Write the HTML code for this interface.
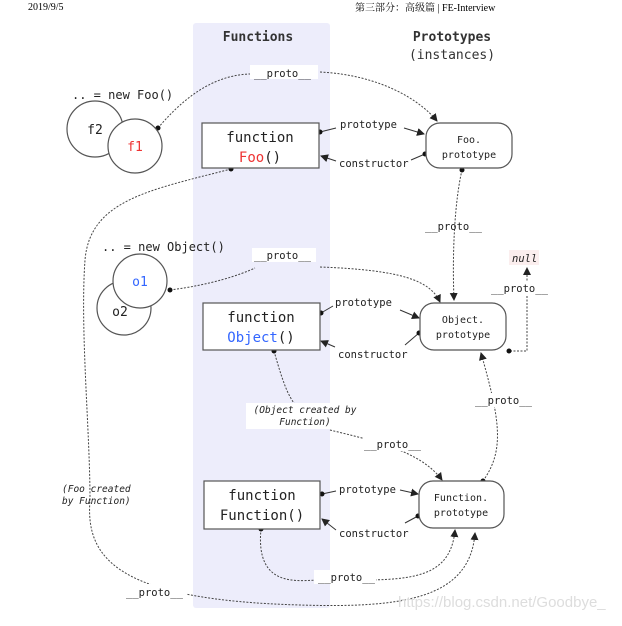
<!DOCTYPE html>
<html><head><meta charset="utf-8"><style>
body{margin:0;background:#fff;width:622px;height:621px;overflow:hidden}
svg text{font-family:"DejaVu Sans Mono","Liberation Mono",monospace}
</style></head><body>
<svg width="622" height="621" viewBox="0 0 622 621" xmlns="http://www.w3.org/2000/svg">
<defs>
<marker id="a" markerWidth="8" markerHeight="8" refX="7" refY="4" orient="auto" markerUnits="userSpaceOnUse"><path d="M0,0 L8,4 L0,8 z" fill="#222"/></marker>
</defs>
<text x="28" y="10" font-size="10" style="font-family:'Liberation Serif',serif">2019/9/5</text>
<text x="355" y="11" font-size="10" style="font-family:'Liberation Serif','Noto Serif CJK SC',serif">第三部分：高级篇 | FE-Interview</text>
<rect x="193" y="23" width="137" height="585" rx="3" fill="#ededfb"/>
<text x="258" y="41" font-size="13" font-weight="bold" text-anchor="middle" fill="#333">Functions</text>
<text x="452" y="41" font-size="13" font-weight="bold" text-anchor="middle" fill="#333">Prototypes</text>
<text x="452" y="59" font-size="13" text-anchor="middle" fill="#333">(instances)</text>

<g fill="none" stroke="#444" stroke-width="1" stroke-dasharray="2,1.5">
<path d="M158,128 C190,90 220,75 250,74" />
<path d="M320,72 C380,75 420,100 437,121" marker-end="url(#a)"/>
<path d="M231,169 C150,190 90,200 85,260 C80,330 90,430 90,500 C85,560 120,600 300,605 C400,608 470,600 475,533" marker-end="url(#a)"/>
<path d="M462,170 C455,200 452,250 454,300" marker-end="url(#a)"/>
<path d="M170,290 C210,285 240,275 255,268"/>
<path d="M320,267 C400,270 430,280 440,302" marker-end="url(#a)"/>
<path d="M510,351 L527,351 L527,268" marker-end="url(#a)"/>
<path d="M274,351 C285,390 290,400 300,410"/>
<path d="M330,430 C370,440 420,450 442,480" marker-end="url(#a)"/>
<path d="M483,481 C505,450 500,420 481,353" marker-end="url(#a)"/>
<path d="M261,529 C255,590 300,580 320,580 C400,580 450,585 455,530" marker-end="url(#a)"/>
</g>
<g fill="none" stroke="#333" stroke-width="1">
<path d="M320,132 L336,128"/><path d="M404,128 L424,134" marker-end="url(#a)"/>
<path d="M336,161 L321,156" marker-end="url(#a)"/><path d="M411,160 L425,154"/>
<path d="M321,313 L333,306"/><path d="M400,310 L419,318" marker-end="url(#a)"/>
<path d="M335,347 L321,341" marker-end="url(#a)"/><path d="M405,345 L419,333"/>
<path d="M322,494 L336,491"/><path d="M400,490 L418,494" marker-end="url(#a)"/>
<path d="M336,530 L322,519" marker-end="url(#a)"/><path d="M405,523 L418,516"/>
</g>
<g fill="#111">
<circle cx="158" cy="128" r="2.5"/><circle cx="320" cy="132" r="2.5"/><circle cx="425" cy="154" r="2.5"/><circle cx="231" cy="169" r="2.5"/><circle cx="462" cy="170" r="2.5"/>
<circle cx="170" cy="290" r="2.5"/><circle cx="321" cy="313" r="2.5"/><circle cx="419" cy="333" r="2.5"/><circle cx="509" cy="351" r="2.5"/><circle cx="274" cy="351" r="2.5"/>
<circle cx="322" cy="494" r="2.5"/><circle cx="418" cy="516" r="2.5"/><circle cx="483" cy="481" r="2.5"/><circle cx="261" cy="529" r="2.5"/>
</g>
<g fill="#fff" stroke="#555" stroke-width="1.2">
<circle cx="95" cy="129" r="28"/><circle cx="135" cy="146" r="27"/>
<circle cx="124" cy="308" r="27"/><circle cx="140" cy="281" r="27"/>
<rect x="202" y="123" width="117" height="45"/>
<rect x="203" y="303" width="117" height="47"/>
<rect x="204" y="481" width="116" height="48"/>
<rect x="426" y="123" width="86" height="45" rx="14"/>
<rect x="420" y="303" width="86" height="47" rx="14"/>
<rect x="419" y="481" width="85" height="47" rx="14"/>
</g>
<g font-size="12" fill="#222">
<text x="72" y="99">.. = new Foo()</text>
<text x="95" y="134" font-size="13" text-anchor="middle">f2</text>
<text x="135" y="151" font-size="13" text-anchor="middle" fill="#e33">f1</text>
<text x="102" y="251">.. = new Object()</text>
<text x="140" y="286" font-size="13" text-anchor="middle" fill="#36f">o1</text>
<text x="120" y="316" font-size="13" text-anchor="middle">o2</text>
<text x="260" y="142" font-size="14" text-anchor="middle">function</text>
<text x="260" y="162" font-size="14" text-anchor="middle"><tspan fill="#e33">Foo</tspan>()</text>
<text x="261" y="322" font-size="14" text-anchor="middle">function</text>
<text x="261" y="342" font-size="14" text-anchor="middle"><tspan fill="#36f">Object</tspan>()</text>
<text x="262" y="500" font-size="14" text-anchor="middle">function</text>
<text x="262" y="520" font-size="14" text-anchor="middle">Function()</text>
<text x="469" y="143" font-size="10" text-anchor="middle">Foo.</text>
<text x="469" y="158" font-size="10" text-anchor="middle">prototype</text>
<text x="463" y="323" font-size="10" text-anchor="middle">Object.</text>
<text x="463" y="338" font-size="10" text-anchor="middle">prototype</text>
<text x="461" y="501" font-size="10" text-anchor="middle">Function.</text>
<text x="461" y="516" font-size="10" text-anchor="middle">prototype</text>
</g>
<g font-size="10.5" fill="#222">
<rect x="250" y="65" width="68" height="14" fill="#fff"/><text x="254" y="77">__proto__</text>
<text x="340" y="128">prototype</text><text x="339" y="167">constructor</text>
<text x="425" y="230">__proto__</text>
<rect x="252" y="248" width="64" height="14" fill="#fff"/><text x="254" y="259">__proto__</text>
<rect x="509" y="250" width="30" height="15" fill="#fbeeee"/><text x="512" y="262" font-style="italic">null</text>
<rect x="490" y="281" width="58" height="14" fill="#fff"/><text x="491" y="292">__proto__</text>
<text x="335" y="306">prototype</text><text x="338" y="358">constructor</text>
<rect x="474" y="393" width="58" height="14" fill="#fff"/><text x="475" y="404">__proto__</text>
<rect x="246" y="403" width="118" height="26" fill="#fff"/>
<text x="305" y="413" font-size="9.5" font-style="italic" text-anchor="middle">(Object created by</text>
<text x="305" y="425" font-size="9.5" font-style="italic" text-anchor="middle">Function)</text>
<rect x="363" y="437" width="58" height="14" fill="#fff"/><text x="364" y="448">__proto__</text>
<text x="62" y="492" font-size="9.5" font-style="italic">(Foo created</text>
<text x="62" y="504" font-size="9.5" font-style="italic">by Function)</text>
<text x="339" y="493">prototype</text><text x="339" y="537">constructor</text>
<rect x="314" y="570" width="62" height="14" fill="#fff"/><text x="318" y="581">__proto__</text>
<rect x="124" y="584" width="62" height="14" fill="#fff"/><text x="126" y="596">__proto__</text>
</g>
<text x="398" y="607" font-size="15" fill="#ddd" style="font-family:'Liberation Sans',sans-serif">https://blog.csdn.net/Goodbye_</text>
</svg>
</body></html>
